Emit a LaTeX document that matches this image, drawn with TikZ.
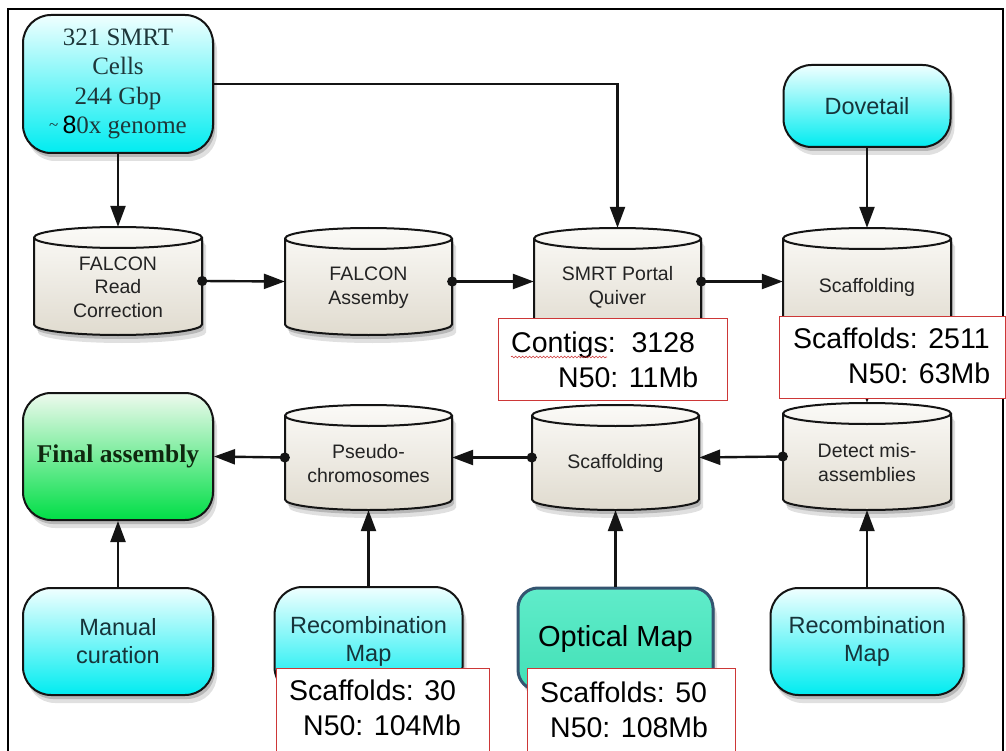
\documentclass[tikz,border=0pt]{standalone}
\usepackage{fontspec}
\setmainfont{Liberation Serif}
\setsansfont{Liberation Sans}
\usetikzlibrary{arrows.meta,shadows,decorations.pathmorphing}
\definecolor{cyantop}{RGB}{240,255,255}
\definecolor{cyanbot}{RGB}{0,236,240}
\definecolor{greentop}{RGB}{238,250,238}
\definecolor{greenbot}{RGB}{0,222,70}
\definecolor{cyltop}{RGB}{251,250,247}
\definecolor{cylbot}{RGB}{224,219,207}
\definecolor{boxtext}{RGB}{22,52,58}
\definecolor{cyltextc}{RGB}{35,35,35}
\definecolor{statred}{RGB}{205,55,55}
\definecolor{opttop}{RGB}{96,236,202}
\definecolor{optbot}{RGB}{66,224,182}
\definecolor{optedge}{RGB}{52,84,112}
\definecolor{edgec}{RGB}{20,20,20}
\tikzset{
  shad/.style={drop shadow={shadow xshift=2pt,shadow yshift=-4pt,opacity=0.18,fill=black},
               drop shadow={shadow xshift=4pt,shadow yshift=-8pt,opacity=0.12,fill=black}},
  roundbox/.style={draw=edgec,line width=2pt,rounded corners=28pt,shad,align=center,
    font=\sffamily\fontsize{23.5}{28}\selectfont,text=boxtext,inner sep=0pt},
  cyanbox/.style={roundbox,top color=cyantop,bottom color=cyanbot},
  greenbox/.style={roundbox,top color=greentop,bottom color=greenbot},
  optbox/.style={roundbox,rounded corners=20pt,draw=optedge,line width=3pt,top color=opttop,bottom color=optbot,
    text=black,font=\sffamily\fontsize{29}{33}\selectfont},
  cylfill/.style={draw=edgec,line width=2pt,top color=cyltop,bottom color=cylbot,shad},
  cylline/.style={draw=edgec,line width=2pt},
  conbox/.style={draw=none,fill=none,inner sep=0pt},
  cyltext/.style={align=center,font=\sffamily\fontsize{19.5}{23.5}\selectfont,text=cyltextc,inner sep=0pt},
  statbox/.style={draw=statred,line width=1.2pt,fill=white,inner sep=0pt,anchor=north west},
  stattext/.style={anchor=base west,inner sep=0pt,font=\sffamily\fontsize{28.5}{33}\selectfont,text=black},
  conn/.style={draw=edgec,line width=2.4pt,-{Triangle[length=21pt,width=15pt]}},
  dconn/.style={draw=edgec,line width=2.4pt,{Circle[length=10pt]}-{Triangle[length=21pt,width=15pt]},shorten <=-5pt},
}
\newcommand\mycyl[6]{%
  \pgfmathsetmacro\cxx{(#2+#3)/2}%
  \pgfmathsetmacro\crx{(#3-#2)/2}%
  \pgfmathsetmacro\cyt{-(#4)-10.5}%
  \pgfmathsetmacro\cyb{-(#5)+10.5}%
  \pgfmathsetmacro\cym{-(#4+#5)/2}%
  \pgfmathsetmacro\cwd{#3-#2}%
  \pgfmathsetmacro\cht{#5-#4}%
  \path[cylfill] (#2,\cyt) -- (#2,\cyb) arc[start angle=180,end angle=360,x radius=\crx pt,y radius=10.5pt]
     -- (#3,\cyt) arc[start angle=0,end angle=180,x radius=\crx pt,y radius=10.5pt] -- cycle;
  \draw[cylline] (#2,\cyt) arc[start angle=180,end angle=360,x radius=\crx pt,y radius=10.5pt];
  \node[conbox,minimum width=\cwd pt,minimum height=\cht pt] (#1) at (\cxx,\cym) {};
  \node[cyltext] (#1t) at (\cxx,\cym-6) {#6};
}
\begin{document}
\begin{tikzpicture}[x=1pt,y=1pt]
\useasboundingbox (0,-751) rectangle (1006,0);
\fill[white] (0,-751) rectangle (1006,0);
% frame
\draw[line width=1.5pt,black] (8,-760) -- (8,-9) -- (1003,-9) -- (1003,-760);

% rounded boxes
\node[cyanbox,minimum width=190pt,minimum height=138pt,font=\rmfamily\fontsize{25}{29.5}\selectfont,text={rgb,255:red,30;green,55;blue,58}] (smrt) at (118,-84)
  {321 SMRT\\Cells\\244 Gbp\\{\fontsize{17}{29}\selectfont\raisebox{3pt}{\textasciitilde}}\,{\sffamily\color{black}8}0x genome};
\node[cyanbox,minimum width=167pt,minimum height=82pt] (dove) at (867,-106) {Dovetail};
\node[greenbox,minimum width=190pt,minimum height=127pt,font=\rmfamily\bfseries\fontsize{25.5}{29}\selectfont,text={rgb,255:red,15;green,40;blue,15}] (final) at (118,-456.5) {Final assembly};
\node[cyanbox,minimum width=190pt,minimum height=107pt] (manual) at (118,-641.5) {Manual\\curation};
\node[cyanbox,minimum width=188pt,minimum height=108pt] (recA) at (368.5,-641) {Recombination\\Map};
\node[optbox,minimum width=195pt,minimum height=102pt] (optical) at (615.5,-639) {Optical Map};
\node[cyanbox,minimum width=193pt,minimum height=107pt] (recB) at (867,-641.5) {Recombination\\Map};

% cylinders
\mycyl{frc}{34}{202}{227}{335}{FALCON\\Read\\Correction}
\mycyl{fasm}{285}{452}{228}{335}{FALCON\\Assemby}
\mycyl{quiver}{534}{701}{228}{335}{SMRT Portal\\Quiver}
\mycyl{scafA}{783}{951}{228}{335}{Scaffolding}
\mycyl{pseudo}{285}{452}{405}{510}{Pseudo-\\chromosomes}
\mycyl{scafB}{532}{699}{405}{510}{Scaffolding}
\mycyl{detect}{783}{951}{403}{510}{Detect mis-\\assemblies}

% connectors
\draw[conn] (smrt.east) -| (quiver.north);
\draw[conn] (smrt.south) -- (frc.north);
\draw[conn] (dove.south) -- (scafA.north);
\draw[dconn] (frc.east) -- (fasm.west);
\draw[dconn] (fasm.east) -- (quiver.west);
\draw[dconn] (quiver.east) -- (scafA.west);
\draw[dconn] (scafA.south) -- (detect.north);
\draw[dconn] (detect.west) -- (scafB.east);
\draw[dconn] (scafB.west) -- (pseudo.east);
\draw[dconn] (pseudo.west) -- (final.east);
\draw[conn] (manual.north) -- (final.south);
\draw[conn] (recA.north) -- (pseudo.south);
\draw[conn] (optical.north) -- (scafB.south);
\draw[conn] (recB.north) -- (detect.south);

% stats boxes
\node[statbox,minimum width=229pt,minimum height=82pt] (sbA) at (498,-318) {};
\node[stattext] (sbA1) at (511,-352) {Contigs:\ \ 3128};
\node[stattext] (sbA2) at (558,-387) {N50: 11Mb};
\draw[statred,line width=0.6pt,decorate,decoration={snake,amplitude=0.9pt,segment length=3.5pt}]
  ([yshift=-5pt]sbA1.base west) -- ++(96,0);
\node[statbox,minimum width=226pt,minimum height=82pt] (sbB) at (779,-316) {};
\node[stattext] (sbB1) at (793,-348) {Scaffolds: 2511};
\node[stattext] (sbB2) at (848,-383) {N50: 63Mb};
\node[statbox,minimum width=213pt,minimum height=90pt] (sbC) at (276,-668) {};
\node[stattext] (sbC1) at (289,-700) {Scaffolds: 30};
\node[stattext] (sbC2) at (303,-735) {N50: 104Mb};
\node[statbox,minimum width=208pt,minimum height=90pt] (sbD) at (527,-668) {};
\node[stattext] (sbD1) at (540,-702) {Scaffolds: 50};
\node[stattext] (sbD2) at (550,-737) {N50: 108Mb};
\end{tikzpicture}
\end{document}
